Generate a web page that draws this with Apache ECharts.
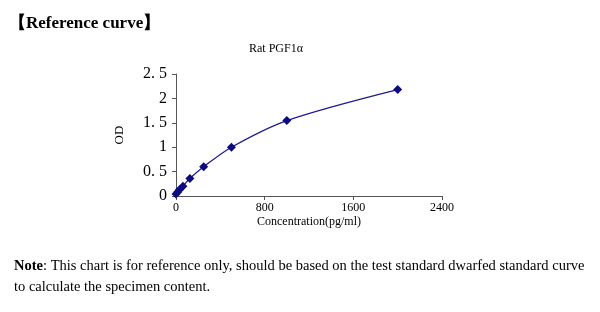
<!DOCTYPE html>
<html><head><meta charset="utf-8">
<script src="https://cdn.jsdelivr.net/npm/echarts@6/dist/echarts.min.js"></script>
<style>html,body{margin:0;padding:0;background:#fff;}#c{width:600px;height:312px;}</style>
</head><body><div id="c"></div>
<script>
const concentrations = [0, 15.6, 31.25, 62.5, 125, 250, 500, 1000, 2000];
const odValues = [0.04, 0.08, 0.13, 0.2, 0.36, 0.6, 1.0, 1.545, 2.18];
const xTicks = [0, 800, 1600, 2400];
const yTickLabels = ['0', '0. 5', '1', '1. 5', '2', '2. 5'];
const chartTitle = 'Rat PGF1\u03b1';
const headerText = '\u3010Reference curve\u3011';
const noteLine1 = 'This chart is for reference only, should be based on the test standard dwarfed standard curve';
const noteLine2 = 'to calculate the specimen content.';

const serif = '"Liberation Serif","DejaVu Serif",serif';
const chart = echarts.init(document.getElementById('c'));
chart.setOption({
  animation: false,
  backgroundColor: '#fff',
  title: [
    {text: headerText, left: 4, top: 10, textStyle: {fontFamily: serif, fontSize: 17, fontWeight: 'bold', color: '#000'}},
    {text: chartTitle, left: 271, top: 38, textAlign: 'center', textStyle: {fontFamily: serif, fontSize: 12, fontWeight: 'normal', color: '#000'}},
    {text: '{b|Note}: ' + noteLine1 + '\n' + noteLine2, left: 9, top: 251,
     textStyle: {fontFamily: serif, fontSize: 14.5, fontWeight: 'normal', color: '#000', lineHeight: 21,
       rich: {b: {fontFamily: serif, fontSize: 14.5, fontWeight: 'bold', color: '#000'}}}}
  ],
  grid: {left: 176, right: 158, top: 74, bottom: 116},
  xAxis: {
    type: 'value', min: 0, max: 2400, interval: 800,
    name: 'Concentration(pg/ml)', nameLocation: 'middle', nameGap: 20,
    nameTextStyle: {fontFamily: serif, fontSize: 12, color: '#000'},
    axisLine: {show: true, lineStyle: {color: '#555', width: 1}},
    axisTick: {show: true, length: 4, lineStyle: {color: '#555'}},
    axisLabel: {fontFamily: serif, fontSize: 12, color: '#000', margin: 6,
      formatter: function (v) { return String(v); }},
    splitLine: {show: false}
  },
  yAxis: {
    type: 'value', min: 0, max: 2.5, interval: 0.5,
    name: 'OD', nameLocation: 'middle', nameGap: 50, nameRotate: 90,
    nameTextStyle: {fontFamily: serif, fontSize: 13, color: '#000'},
    axisLine: {show: true, lineStyle: {color: '#555', width: 1}},
    axisTick: {show: true, length: 4, lineStyle: {color: '#555'}},
    axisLabel: {fontFamily: serif, fontSize: 16, color: '#000', margin: 9,
      formatter: function (v) { return yTickLabels[Math.round(v / 0.5)]; }},
    splitLine: {show: false}
  },
  series: [{
    type: 'line',
    data: concentrations.map((c, i) => [c, odValues[i]]),
    smooth: 0.3,
    symbol: 'diamond', symbolSize: 9,
    lineStyle: {color: '#1c1c8f', width: 1.3},
    itemStyle: {color: '#0c0c80'}
  }]
});
</script></body></html>
